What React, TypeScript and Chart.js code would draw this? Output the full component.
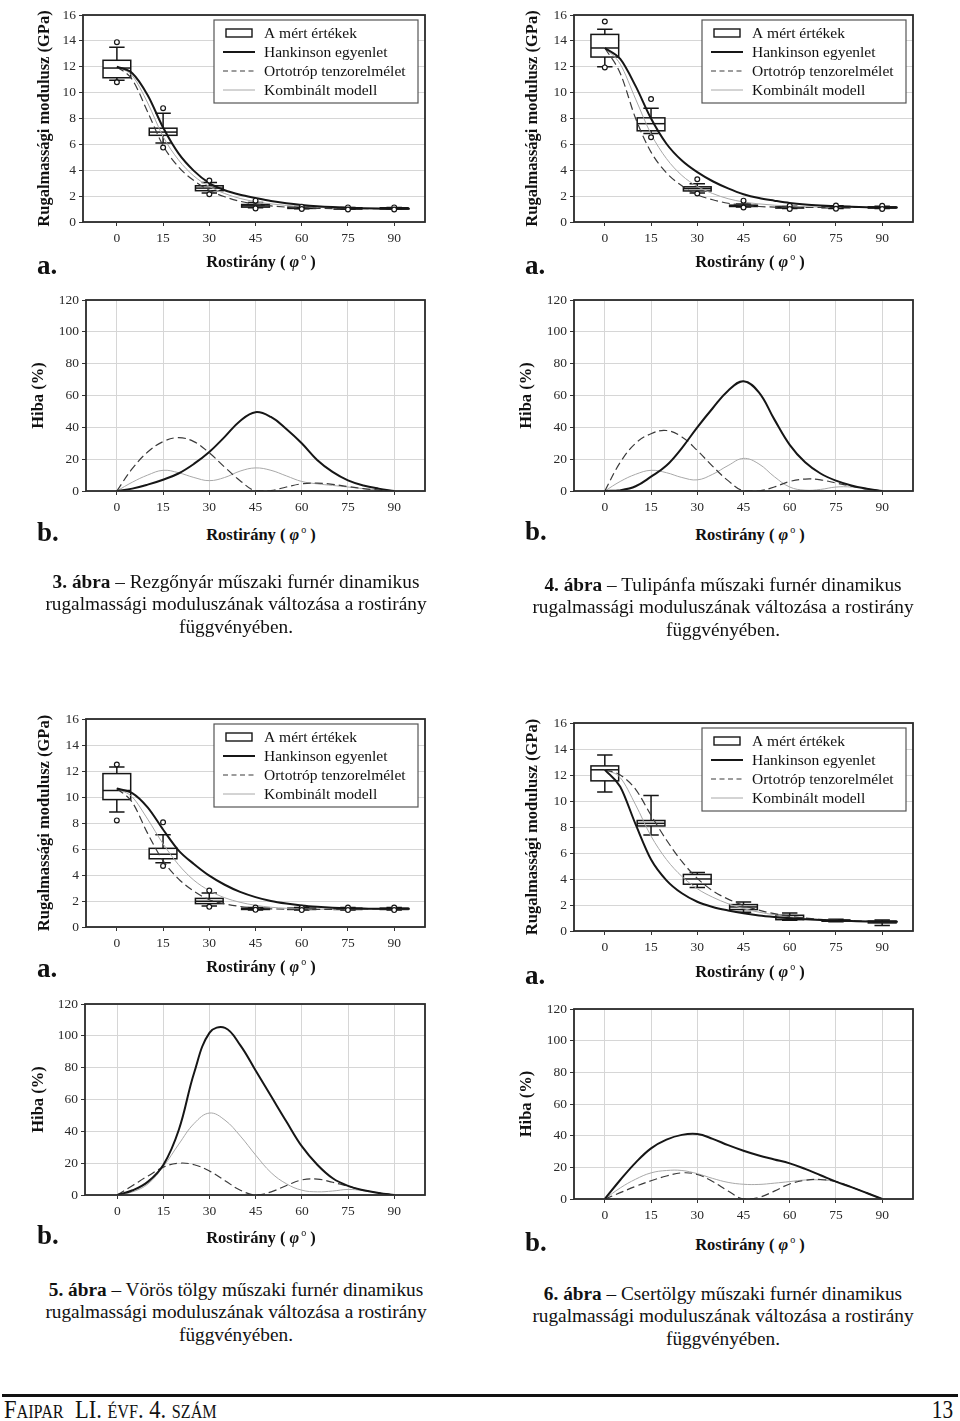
import React, { useEffect, useRef } from "react";
import { Chart, registerables } from "chart.js";
Chart.register(...registerables);

// ---------- shared categories / labels ----------
const X_TICKS = [0, 15, 30, 45, 60, 75, 90];
const BOX_ANGLES = [0, 15, 30, 45, 60, 75, 90];
const MODEL_ANGLES = [0, 5, 10, 15, 20, 25, 30, 35, 40, 45, 50, 55, 60, 65, 70, 75, 80, 85, 90, 95];
const ERROR_ANGLES = [0, 5, 10, 15, 20, 25, 30, 35, 40, 45, 50, 55, 60, 65, 70, 75, 80, 85, 90];
const LEGEND_LABELS = ["A mért értékek", "Hankinson egyenlet", "Ortotróp tenzorelmélet", "Kombinált modell"];
const Y_TITLE_A = "Rugalmassági modulusz (GPa)";
const Y_TITLE_B = "Hiba (%)";
const X_TITLE = "Rostirány";

// ---------- 3. ábra (Rezgőnyár) ----------
const FIG3_Q1 = [11.15, 6.7, 2.42, 1.15, 1.05, 1.0, 1.0];
const FIG3_MED = [11.9, 6.95, 2.62, 1.25, 1.1, 1.05, 1.05];
const FIG3_Q3 = [12.5, 7.25, 2.8, 1.35, 1.15, 1.1, 1.1];
const FIG3_WLO = [10.95, 6.1, 2.25, 1.1, 1.02, 0.98, 0.98];
const FIG3_WHI = [13.5, 8.4, 3.05, 1.5, 1.2, 1.13, 1.13];
const FIG3_OUT_LO = [10.8, 5.75, 2.15, 1.05, 1.0, 0.97, 0.97];
const FIG3_OUT_HI = [13.9, 8.8, 3.2, 1.65, 1.18, 1.13, 1.13];
const FIG3_HANK = [12.0, 11.5, 9.8, 7.3, 5.3, 3.95, 3.0, 2.45, 2.1, 1.85, 1.62, 1.45, 1.32, 1.22, 1.15, 1.1, 1.06, 1.04, 1.03, 1.03];
const FIG3_ORTO = [12.0, 11.0, 8.5, 5.9, 4.25, 3.2, 2.45, 1.95, 1.6, 1.38, 1.24, 1.15, 1.1, 1.06, 1.04, 1.03, 1.03, 1.03, 1.03, 1.03];
const FIG3_KOMB = [12.0, 11.3, 9.2, 6.6, 4.8, 3.55, 2.75, 2.2, 1.82, 1.57, 1.4, 1.28, 1.19, 1.13, 1.09, 1.06, 1.04, 1.03, 1.03, 1.03];
const FIG3_ERR_HANK = [0, 1.5, 4, 7.1, 11, 17, 24.5, 34, 44, 49.5, 46.5, 39, 30, 19.5, 12, 6.7, 3.5, 1.5, 0];
const FIG3_ERR_ORTO = [0, 14, 24.5, 31, 33.5, 31, 24, 15, 6.5, 0, 0.3, 2.5, 4.5, 5, 4.2, 2.8, 1.5, 0.6, 0];
const FIG3_ERR_KOMB = [0, 5.5, 10, 13, 11.5, 8.5, 6.5, 8.5, 12.5, 14.5, 13, 9.5, 6, 4.5, 3.5, 2.5, 1.5, 0.7, 0];

// ---------- 4. ábra (Tulipánfa) ----------
const FIG4_Q1 = [12.75, 7.05, 2.4, 1.2, 1.08, 1.1, 1.08];
const FIG4_MED = [13.45, 7.6, 2.58, 1.25, 1.12, 1.15, 1.12];
const FIG4_Q3 = [14.5, 8.05, 2.72, 1.3, 1.17, 1.2, 1.17];
const FIG4_WLO = [12.0, 6.85, 2.25, 1.15, 1.05, 1.05, 1.05];
const FIG4_WHI = [14.9, 8.8, 2.95, 1.4, 1.22, 1.25, 1.22];
const FIG4_OUT_LO = [11.95, 6.55, 2.2, 1.12, 1.0, 1.02, 1.0];
const FIG4_OUT_HI = [15.5, 9.5, 3.3, 1.65, 1.25, 1.27, 1.25];
const FIG4_HANK = [13.45, 12.6, 10.5, 8.0, 6.05, 4.75, 3.85, 3.15, 2.6, 2.15, 1.85, 1.65, 1.47, 1.35, 1.27, 1.21, 1.17, 1.14, 1.12, 1.12];
const FIG4_ORTO = [13.45, 11.5, 8.0, 5.4, 3.8, 2.8, 2.1, 1.72, 1.45, 1.28, 1.2, 1.15, 1.13, 1.12, 1.12, 1.12, 1.12, 1.12, 1.12, 1.12];
const FIG4_KOMB = [13.45, 12.2, 9.5, 6.8, 4.9, 3.6, 2.75, 2.2, 1.8, 1.55, 1.4, 1.3, 1.23, 1.18, 1.15, 1.14, 1.13, 1.12, 1.12, 1.12];
const FIG4_ERR_HANK = [0, 0.5, 3, 9, 16, 27, 40, 52, 63, 69, 62, 45, 29, 18, 11, 6.5, 3.5, 1.5, 0];
const FIG4_ERR_ORTO = [0, 18, 30, 36, 38, 34, 25.5, 15.5, 6.5, 0, 0, 2.5, 6, 7.5, 7, 5, 3, 1.2, 0];
const FIG4_ERR_KOMB = [0, 6, 10.5, 13, 11.5, 8.5, 7, 10.5, 16, 20.5, 17, 9, 2.5, 0.5, 1, 2.5, 2.5, 1.5, 0];

// ---------- 5. ábra (Vörös tölgy) ----------
const FIG5_Q1 = [9.8, 5.25, 1.8, 1.35, 1.35, 1.35, 1.35];
const FIG5_MED = [10.5, 5.6, 1.98, 1.4, 1.4, 1.4, 1.4];
const FIG5_Q3 = [11.8, 6.05, 2.2, 1.45, 1.45, 1.45, 1.45];
const FIG5_WLO = [8.85, 4.95, 1.62, 1.3, 1.3, 1.3, 1.3];
const FIG5_WHI = [12.3, 7.1, 2.62, 1.5, 1.5, 1.5, 1.5];
const FIG5_OUT_LO = [8.2, 4.7, 1.55, 1.32, 1.3, 1.3, 1.3];
const FIG5_OUT_HI = [12.5, 8.05, 2.8, 1.5, 1.48, 1.5, 1.5];
const FIG5_HANK = [10.65, 10.3, 9.2, 7.5, 5.9, 4.85, 3.95, 3.25, 2.7, 2.3, 2.0, 1.8, 1.65, 1.55, 1.48, 1.44, 1.42, 1.4, 1.4, 1.4];
const FIG5_ORTO = [10.65, 9.6, 7.2, 5.1, 3.7, 2.75, 2.1, 1.78, 1.58, 1.46, 1.4, 1.36, 1.35, 1.35, 1.36, 1.37, 1.38, 1.39, 1.4, 1.4];
const FIG5_KOMB = [10.65, 10.0, 8.3, 6.4, 4.8, 3.6, 2.8, 2.25, 1.9, 1.67, 1.52, 1.44, 1.39, 1.37, 1.37, 1.38, 1.39, 1.4, 1.4, 1.4];
const FIG5_ERR_HANK = [0, 3, 8.4, 19, 41, 77, 102, 105, 94, 78, 62, 46, 30.5, 19, 10.5, 5.7, 3, 1.3, 0];
const FIG5_ERR_ORTO = [0, 6, 12, 17.5, 20, 19, 15, 9, 3, 0, 2, 6, 9.5, 10, 8, 5.5, 3, 1.3, 0];
const FIG5_ERR_KOMB = [0, 2, 7, 18, 32, 45, 51.5, 47, 37, 25, 14, 7, 3, 2, 2.5, 3.5, 2.7, 1.3, 0];

// ---------- 6. ábra (Csertölgy) ----------
const FIG6_Q1 = [11.55, 8.08, 3.6, 1.65, 0.87, 0.75, 0.62];
const FIG6_MED = [12.4, 8.28, 4.0, 1.85, 1.03, 0.8, 0.7];
const FIG6_Q3 = [12.7, 8.5, 4.35, 2.03, 1.21, 0.85, 0.77];
const FIG6_WLO = [10.7, 7.38, 3.34, 1.44, 0.82, 0.72, 0.42];
const FIG6_WHI = [13.53, 10.42, 4.5, 2.24, 1.39, 0.9, 0.85];
const FIG6_HANK = [12.4, 11.1, 8.2, 5.5, 3.9, 2.9, 2.25, 1.85, 1.58, 1.36, 1.2, 1.08, 0.98, 0.9, 0.84, 0.8, 0.77, 0.74, 0.72, 0.72];
const FIG6_ORTO = [12.4, 12.0, 10.9, 8.9, 7.0, 5.35, 4.05, 3.1, 2.45, 1.97, 1.6, 1.33, 1.13, 0.99, 0.89, 0.82, 0.78, 0.75, 0.72, 0.72];
const FIG6_KOMB = [12.4, 11.8, 9.7, 7.3, 5.5, 4.2, 3.25, 2.6, 2.1, 1.72, 1.45, 1.25, 1.08, 0.96, 0.88, 0.82, 0.78, 0.75, 0.72, 0.72];
const FIG6_ERR_HANK = [0, 12, 23, 32, 37.5, 40.5, 41, 38, 34, 30.5, 27.5, 25, 22.5, 19, 15, 11, 7.5, 3.8, 0];
const FIG6_ERR_ORTO = [0, 4, 8, 11.5, 14.5, 16.5, 15.5, 11, 5, 0, 1, 5, 9.5, 11.8, 12.3, 11, 7.5, 3.8, 0];
const FIG6_ERR_KOMB = [0, 7, 12.5, 16.5, 18, 18, 16, 13, 10.5, 9.3, 9.2, 10, 11, 12, 12, 11, 7.5, 3.8, 0];

// ---------- styling ----------
const SERIF = '"Liberation Serif", "Times New Roman", serif';
const TITLE_SIZE = 16.5;
const TITLE_LH = 1.2;
const PAD_T = 12;
const PAD_R = 12;
const X_AXIS_H = 32;
const BOX_HALF = 4.5;
const CAP_HALF = 2.5;
const INK = "#161616";

type BoxData = { q1: number[]; med: number[]; q3: number[]; wlo: number[]; whi: number[]; olo?: number[]; ohi?: number[] };
type Spec = {
  kind: "a" | "b";
  L: number; T: number; R: number; B: number;
  titleCX: number;
  xMin: number;
  hank: number[]; orto: number[]; komb: number[];
  box?: BoxData;
};

function geom(s: Spec) {
  const left = Math.round(s.titleCX - (TITLE_SIZE * TITLE_LH) / 2);
  const top = s.T - PAD_T;
  const w = s.R + PAD_R - left;
  const h = s.B + X_AXIS_H - top;
  return { left, top, w, h };
}

function pts(xs: number[], ys: number[]) {
  return xs.map((x, i) => ({ x, y: ys[i] }));
}

function buildConfig(s: Spec): any {
  const g = geom(s);
  const isA = s.kind === "a";
  const angles = isA ? MODEL_ANGLES : ERROR_ANGLES;
  const curveOpts: any = isA
    ? { cubicInterpolationMode: "monotone" }
    : { cubicInterpolationMode: "default", tension: 0.4 };

  const datasets: any[] = [];
  if (s.box && s.box.olo && s.box.ohi) {
    const out = [...pts(BOX_ANGLES, s.box.ohi), ...pts(BOX_ANGLES, s.box.olo)];
    datasets.push({
      label: "outliers",
      data: out,
      showLine: false,
      pointRadius: 2.4,
      pointBorderWidth: 1.2,
      pointBorderColor: INK,
      pointBackgroundColor: "#ffffff",
    });
  }
  datasets.push({
    label: LEGEND_LABELS[1],
    data: pts(angles, s.hank),
    borderColor: INK,
    borderWidth: 2,
    pointRadius: 0,
    ...curveOpts,
  });
  datasets.push({
    label: LEGEND_LABELS[2],
    data: pts(angles, s.orto),
    borderColor: "#3a3a3a",
    borderWidth: 1.2,
    borderDash: [8, 4],
    pointRadius: 0,
    ...curveOpts,
  });
  datasets.push({
    label: LEGEND_LABELS[3],
    data: pts(angles, s.komb),
    borderColor: "#a8a8a8",
    borderWidth: 1,
    pointRadius: 0,
    ...curveOpts,
  });

  const boxPlugin = {
    id: "boxes",
    beforeDatasetsDraw(chart: any) {
      if (!s.box) return;
      const b = s.box;
      const { ctx } = chart;
      const x = chart.scales.x;
      const y = chart.scales.y;
      ctx.save();
      ctx.strokeStyle = INK;
      ctx.lineWidth = 1.5;
      BOX_ANGLES.forEach((a, i) => {
        const xc = x.getPixelForValue(a);
        const xl = x.getPixelForValue(a - BOX_HALF);
        const xr = x.getPixelForValue(a + BOX_HALF);
        const cl = x.getPixelForValue(a - CAP_HALF);
        const cr = x.getPixelForValue(a + CAP_HALF);
        const y1 = y.getPixelForValue(b.q1[i]);
        const y3 = y.getPixelForValue(b.q3[i]);
        const ym = y.getPixelForValue(b.med[i]);
        const ylo = y.getPixelForValue(b.wlo[i]);
        const yhi = y.getPixelForValue(b.whi[i]);
        ctx.beginPath();
        ctx.moveTo(xc, y3); ctx.lineTo(xc, yhi);
        ctx.moveTo(cl, yhi); ctx.lineTo(cr, yhi);
        ctx.moveTo(xc, y1); ctx.lineTo(xc, ylo);
        ctx.moveTo(cl, ylo); ctx.lineTo(cr, ylo);
        ctx.stroke();
        ctx.fillStyle = "#ffffff";
        ctx.fillRect(xl, y3, xr - xl, y1 - y3);
        ctx.strokeRect(xl, y3, xr - xl, y1 - y3);
        ctx.beginPath();
        ctx.moveTo(xl, ym); ctx.lineTo(xr, ym);
        ctx.stroke();
      });
      ctx.restore();
    },
  };

  const framePlugin = {
    id: "frame",
    afterDatasetsDraw(chart: any) {
      const { ctx, chartArea: a } = chart;
      ctx.save();
      ctx.strokeStyle = "#2a2a2a";
      ctx.lineWidth = 1.8;
      ctx.strokeRect(a.left, a.top, a.right - a.left, a.bottom - a.top);
      ctx.restore();
    },
  };

  const legendPlugin = {
    id: "legendBox",
    afterDatasetsDraw(chart: any) {
      if (!isA) return;
      const { ctx, chartArea: a } = chart;
      const w = 204, h = 83;
      const x0 = a.right - 7 - w;
      const y0 = a.top + 5;
      ctx.save();
      ctx.fillStyle = "#ffffff";
      ctx.fillRect(x0, y0, w, h);
      ctx.strokeStyle = "#555555";
      ctx.lineWidth = 1.2;
      ctx.strokeRect(x0, y0, w, h);
      ctx.font = `15.5px ${SERIF}`;
      ctx.textBaseline = "middle";
      ctx.textAlign = "left";
      LEGEND_LABELS.forEach((lab, i) => {
        const yy = y0 + 13 + i * 19;
        ctx.save();
        if (i === 0) {
          ctx.strokeStyle = INK;
          ctx.lineWidth = 1.4;
          ctx.strokeRect(x0 + 12, yy - 4, 26, 8);
        } else {
          const ds = datasets.find((d) => d.label === lab);
          ctx.strokeStyle = ds.borderColor;
          ctx.lineWidth = ds.borderWidth;
          ctx.setLineDash(i === 2 ? [5, 3.5] : []);
          ctx.beginPath();
          ctx.moveTo(x0 + 9, yy);
          ctx.lineTo(x0 + 41, yy);
          ctx.stroke();
        }
        ctx.restore();
        ctx.fillStyle = "#111111";
        ctx.fillText(lab, x0 + 50, yy + 0.5);
      });
      ctx.restore();
    },
  };

  const tickFont = { family: SERIF, size: 13.5 };
  const gridColor = "#d6d6d6";

  return {
    type: "line",
    data: { datasets },
    plugins: [boxPlugin, framePlugin, legendPlugin],
    options: {
      responsive: false,
      animation: false,
      devicePixelRatio: 1,
      events: [],
      layout: { padding: { left: 0, top: PAD_T, right: PAD_R, bottom: 0 } },
      plugins: { legend: { display: false }, tooltip: { enabled: false } },
      scales: {
        x: {
          type: "linear",
          min: s.xMin,
          max: 100,
          afterBuildTicks: (sc: any) => {
            sc.ticks = X_TICKS.map((v) => ({ value: v }));
          },
          afterFit: (sc: any) => {
            sc.height = X_AXIS_H;
          },
          border: { display: false },
          grid: {
            display: true,
            drawOnChartArea: !isA,
            color: gridColor,
            lineWidth: 1,
            tickColor: "#333333",
            tickLength: 4,
          },
          ticks: {
            autoSkip: false,
            maxRotation: 0,
            padding: 4,
            color: "#2a2a2a",
            font: tickFont,
            callback: (v: any) => String(v),
          },
        },
        y: {
          type: "linear",
          min: 0,
          max: isA ? 16 : 120,
          afterFit: (sc: any) => {
            sc.width = s.L - g.left;
          },
          border: { display: false },
          grid: { color: gridColor, lineWidth: 1, tickColor: "#333333", tickLength: 4 },
          ticks: {
            stepSize: isA ? 2 : 20,
            padding: 3,
            color: "#2a2a2a",
            font: tickFont,
          },
          title: {
            display: true,
            text: isA ? Y_TITLE_A : Y_TITLE_B,
            color: "#111111",
            padding: { top: 0, bottom: 0 },
            font: { family: SERIF, size: TITLE_SIZE, weight: "bold", lineHeight: TITLE_LH },
          },
        },
      },
    },
  };
}

const FIG3_BOX: BoxData = { q1: FIG3_Q1, med: FIG3_MED, q3: FIG3_Q3, wlo: FIG3_WLO, whi: FIG3_WHI, olo: FIG3_OUT_LO, ohi: FIG3_OUT_HI };
const FIG4_BOX: BoxData = { q1: FIG4_Q1, med: FIG4_MED, q3: FIG4_Q3, wlo: FIG4_WLO, whi: FIG4_WHI, olo: FIG4_OUT_LO, ohi: FIG4_OUT_HI };
const FIG5_BOX: BoxData = { q1: FIG5_Q1, med: FIG5_MED, q3: FIG5_Q3, wlo: FIG5_WLO, whi: FIG5_WHI, olo: FIG5_OUT_LO, ohi: FIG5_OUT_HI };
const FIG6_BOX: BoxData = { q1: FIG6_Q1, med: FIG6_MED, q3: FIG6_Q3, wlo: FIG6_WLO, whi: FIG6_WHI };

const SPECS: Spec[] = [
  { kind: "a", L: 83, T: 15, R: 425, B: 222, titleCX: 45, xMin: -11, hank: FIG3_HANK, orto: FIG3_ORTO, komb: FIG3_KOMB, box: FIG3_BOX },
  { kind: "a", L: 574, T: 15, R: 913, B: 222, titleCX: 533, xMin: -10, hank: FIG4_HANK, orto: FIG4_ORTO, komb: FIG4_KOMB, box: FIG4_BOX },
  { kind: "b", L: 86, T: 300, R: 425, B: 491, titleCX: 39, xMin: -10, hank: FIG3_ERR_HANK, orto: FIG3_ERR_ORTO, komb: FIG3_ERR_KOMB },
  { kind: "b", L: 574, T: 300, R: 913, B: 491, titleCX: 527, xMin: -10, hank: FIG4_ERR_HANK, orto: FIG4_ERR_ORTO, komb: FIG4_ERR_KOMB },
  { kind: "a", L: 86, T: 719, R: 425, B: 927, titleCX: 45, xMin: -10, hank: FIG5_HANK, orto: FIG5_ORTO, komb: FIG5_KOMB, box: FIG5_BOX },
  { kind: "a", L: 574, T: 723, R: 913, B: 931, titleCX: 533, xMin: -10, hank: FIG6_HANK, orto: FIG6_ORTO, komb: FIG6_KOMB, box: FIG6_BOX },
  { kind: "b", L: 85, T: 1004, R: 425, B: 1195, titleCX: 39, xMin: -10.5, hank: FIG5_ERR_HANK, orto: FIG5_ERR_ORTO, komb: FIG5_ERR_KOMB },
  { kind: "b", L: 574, T: 1009, R: 913, B: 1199, titleCX: 527, xMin: -10, hank: FIG6_ERR_HANK, orto: FIG6_ERR_ORTO, komb: FIG6_ERR_KOMB },
];

// overlay text positions (page coords)
const X_TITLE_POS = [[261, 262], [750, 262], [261, 535], [750, 535], [261, 967], [750, 972], [261, 1238], [750, 1245]];
const PANEL_LABEL_POS = [[37, 265], [525, 265], [37, 532], [525, 531], [37, 968], [525, 975], [37, 1235], [525, 1242]];

const CAPTIONS = [
  { num: "3. ábra", first: " – Rezgőnyár műszaki furnér dinamikus", cx: 236, y: 582 },
  { num: "4. ábra", first: " – Tulipánfa műszaki furnér dinamikus", cx: 723, y: 585 },
  { num: "5. ábra", first: " – Vörös tölgy műszaki furnér dinamikus", cx: 236, y: 1290 },
  { num: "6. ábra", first: " – Csertölgy műszaki furnér dinamikus", cx: 723, y: 1294 },
];
const CAPTION_L2 = "rugalmassági moduluszának változása a rostirány";
const CAPTION_L3 = "függvényében.";

function ChartCanvas({ spec }: { spec: Spec }) {
  const ref = useRef<HTMLCanvasElement>(null);
  const g = geom(spec);
  useEffect(() => {
    const chart = new Chart(ref.current as HTMLCanvasElement, buildConfig(spec));
    return () => chart.destroy();
  }, []);
  return (
    <canvas
      ref={ref}
      width={g.w}
      height={g.h}
      style={{ position: "absolute", left: g.left, top: g.top, width: g.w, height: g.h }}
    />
  );
}

export default function App() {
  return (
    <div
      style={{
        position: "absolute",
        left: 0,
        top: 0,
        width: 960,
        height: 1421,
        background: "#ffffff",
        overflow: "hidden",
        fontFamily: SERIF,
        color: "#111",
      }}
    >
      {SPECS.map((s, i) => (
        <ChartCanvas key={i} spec={s} />
      ))}
      {X_TITLE_POS.map(([x, y], i) => (
        <div
          key={"xt" + i}
          style={{
            position: "absolute",
            left: x,
            top: y,
            transform: "translate(-50%, -50%)",
            whiteSpace: "nowrap",
            fontWeight: "bold",
            fontSize: TITLE_SIZE,
            lineHeight: 1,
          }}
        >
          {X_TITLE} ( <i>φ</i>
          <span style={{ fontSize: 10, position: "relative", top: -7, marginLeft: 2, fontWeight: "normal" }}>o</span> )
        </div>
      ))}
      {PANEL_LABEL_POS.map(([x, y], i) => (
        <div
          key={"pl" + i}
          style={{
            position: "absolute",
            left: x,
            top: y,
            transform: "translateY(-50%)",
            fontWeight: "bold",
            fontSize: 27,
            lineHeight: 1,
          }}
        >
          {i % 4 < 2 ? "a." : "b."}
        </div>
      ))}
      {CAPTIONS.map((c, i) => (
        <div
          key={"cap" + i}
          style={{
            position: "absolute",
            left: c.cx - 240,
            width: 480,
            top: c.y - 11.25,
            textAlign: "center",
            fontSize: 19.3,
            lineHeight: "22.5px",
            whiteSpace: "nowrap",
          }}
        >
          <div>
            <b>{c.num}</b>
            {c.first}
          </div>
          <div>{CAPTION_L2}</div>
          <div>{CAPTION_L3}</div>
        </div>
      ))}
      <div style={{ position: "absolute", left: 2, top: 1394, width: 956, height: 3, background: "#111" }} />
      <div
        style={{
          position: "absolute",
          left: 4,
          top: 1397,
          fontSize: 25,
          lineHeight: 1,
          whiteSpace: "nowrap",
          transform: "scaleX(0.9)",
          transformOrigin: "left top",
        }}
      >
        <span style={{ fontVariant: "small-caps" }}>Faipar</span>{"\u00a0\u00a0"}LI. <span style={{ fontVariant: "small-caps" }}>évf</span>. 4.{" "}
        <span style={{ fontVariant: "small-caps" }}>szám</span>
      </div>
      <div
        style={{
          position: "absolute",
          right: 7,
          top: 1397,
          fontSize: 25,
          lineHeight: 1,
          transform: "scaleX(0.85)",
          transformOrigin: "right top",
        }}
      >
        13
      </div>
    </div>
  );
}
